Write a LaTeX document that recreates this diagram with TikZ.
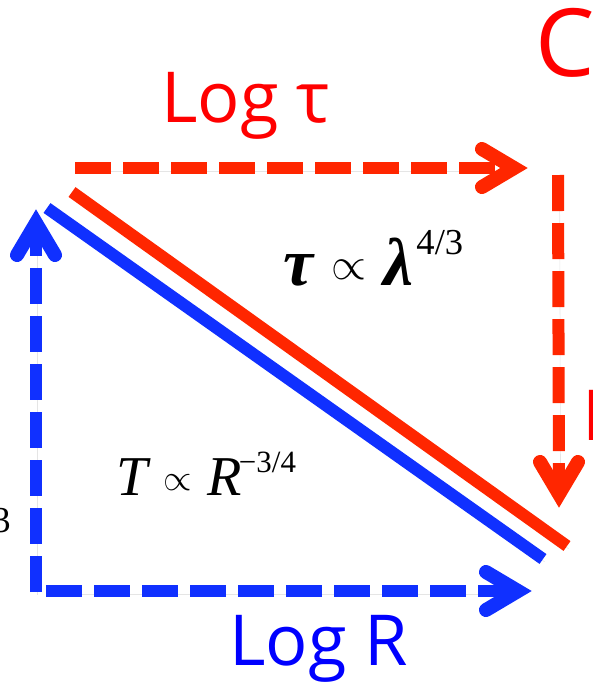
\documentclass[tikz,border=0pt]{standalone}
\usepackage{fontspec}
\usepackage{graphicx}
\setmainfont{Open Sans}
\newfontfamily\lawfont{Liberation Serif}
\usetikzlibrary{arrows.meta,positioning}
\definecolor{LineRed}{RGB}{255,38,0}
\definecolor{LineBlue}{RGB}{16,48,255}
\definecolor{LabelRed}{RGB}{255,0,0}
\definecolor{LabelBlue}{RGB}{0,0,255}
\newcommand{\propsign}[2]{\raisebox{#2}{\scalebox{#1}{\fontsize{10}{12}\selectfont$\propto$}}}
\newcommand{\expo}[3]{\raisebox{#2}{\lawfont\fontsize{#1}{#1}\selectfont #3}}

\begin{document}
\begin{tikzpicture}[x=0.025cm,y=-0.025cm,
  softshadow/.style={preaction={draw=black,opacity=0.1,transform canvas={shift={(0.04cm,-0.07cm)}}}},
  dashline/.style={softshadow,line width=0.3cm,dash pattern=on 0.9cm off 0.3cm},
  chevron/.style={softshadow,line width=0.35cm,line cap=round,line join=miter},
  solidline/.style={softshadow,line width=0.3cm},
  axislabel/.style={font=\fontsize{50}{56}\selectfont,inner sep=0pt,anchor=base west},
  lawlabel/.style={inner sep=0pt,anchor=base west},
]
\useasboundingbox (0,0) rectangle (593,686);
\clip (0,0) rectangle (593,686);

\coordinate (tauStart) at (75,168);
\coordinate (tauTip) at (514,168);
\coordinate (lamStart) at (558,175);
\coordinate (lamTip) at (559,494);
\coordinate (tStart) at (36,592);
\coordinate (tTip) at (36,223);
\coordinate (rStart) at (46,591);
\coordinate (rTip) at (518,591);
\coordinate (redA) at (72,192);
\coordinate (redB) at (567,546);
\coordinate (blueA) at (47,208);
\coordinate (blueB) at (543,559);

\draw[dashline,LineRed] (tauStart) -- (tauTip);
\draw[chevron,LineRed] (tauTip) ++(-32,-19) -- (tauTip) -- ++(-32,19);
\draw[dashline,LineRed] (lamStart) -- (lamTip);
\draw[chevron,LineRed] (lamTip) ++(-19,-32) -- (lamTip) -- ++(19,-32);
\draw[dashline,LineBlue] (tStart) -- (tTip);
\draw[chevron,LineBlue] (tTip) ++(-19,32) -- (tTip) -- ++(19,32);
\draw[dashline,LineBlue] (rStart) -- (rTip);
\draw[chevron,LineBlue] (rTip) ++(-32,-19) -- (rTip) -- ++(-32,19);

\draw[solidline,LineRed] (redA) -- (redB);
\draw[solidline,LineBlue] (blueA) -- (blueB);

\node[axislabel,text=LabelRed] (logtau) at (161,122) {Log τ};
\node[axislabel,text=LabelBlue] (logR) at (229,665) {Log R};
\node[axislabel,text=LabelRed,font=\fontsize{67}{72}\selectfont] (topC) at (535,76) {C};
\node[axislabel,text=LabelRed] (sideL) at (582,440) {L};

\node[lawlabel,font=\lawfont\fontsize{48}{50}\selectfont] (redlaw) at (283,285)
  {\textbf{\textit{τ}}\hspace{12pt}\propsign{3.2}{3.8pt}\hspace{12pt}\textbf{\textit{λ}}\hspace{2pt}\expo{26pt}{22pt}{4/3}};
\node[lawlabel,font=\lawfont\fontsize{40}{44}\selectfont] (bluelaw) at (116,495)
  {\textit{T}\hspace{9pt}\propsign{2.6}{3.5pt}\hspace{11pt}\textit{R}\kern-2pt\expo{22pt}{16pt}{−3/4}};
\node[inner sep=0pt,anchor=base east,font=\lawfont\fontsize{26}{28}\selectfont] (cut3) at (11,532) {3};
\end{tikzpicture}
\end{document}
